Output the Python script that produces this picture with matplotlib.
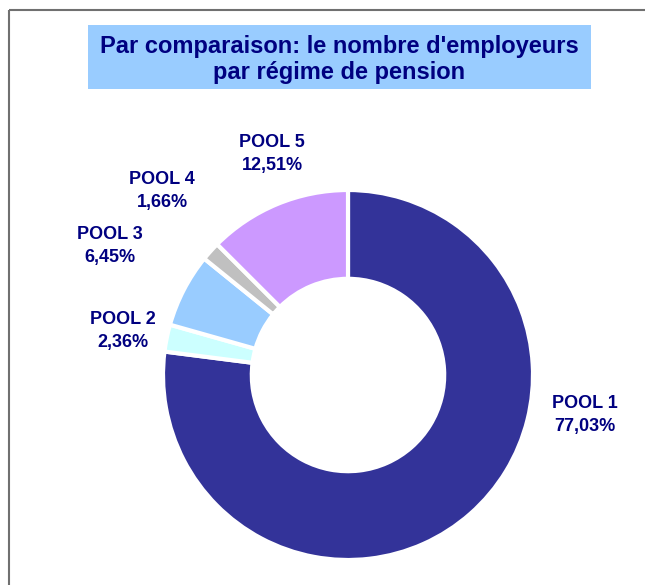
import matplotlib.pyplot as plt
from matplotlib.patches import Rectangle

# data
pools = ['POOL 1', 'POOL 2', 'POOL 3', 'POOL 4', 'POOL 5']
shares = [77.03, 2.36, 6.45, 1.66, 12.51]
colors = ['#333399', '#CCFFFF', '#99CCFF', '#C0C0C0', '#CC99FF']

navy = '#000080'
fig = plt.figure(figsize=(6.45, 5.85), dpi=100)
ax = fig.add_axes([0, 0, 1, 1])
ax.set_xlim(0, 645)
ax.set_ylim(585, 0)
ax.axis('off')

# outer chart frame (clipped on right/bottom like the screenshot)
ax.add_patch(Rectangle((9, 10), 700, 700, fill=False, ec='#707070', lw=1.5))

# title box
ax.add_patch(Rectangle((88, 25), 503, 64, fc='#99CCFF', ec='none'))
ax.text(339, 46, "Par comparaison: le nombre d'employeurs", ha='center', va='center',
        fontsize=17, fontweight='bold', color=navy, family='Liberation Sans')
ax.text(339, 72, "par régime de pension", ha='center', va='center',
        fontsize=17, fontweight='bold', color=navy, family='Liberation Sans')

# donut in a separate axes so the pie keeps its own geometry
pax = fig.add_axes([(348 - 185) / 645, (585 - 375 - 185) / 585, 370 / 645, 370 / 585])
pax.pie(shares, colors=colors, startangle=90, counterclock=False, radius=1,
        wedgeprops=dict(width=0.48, edgecolor='white', linewidth=3))
pax.set_xlim(-1, 1)
pax.set_ylim(-1, 1)
pax.set_aspect('equal')
pax.axis('off')

# labels
label_pos = [(585, 415), (123, 331), (110, 246), (162, 191), (272, 154)]
for name, val, (x, y) in zip(pools, shares, label_pos):
    txt = f"{name}\n{val:.2f}%".replace('.', ',')
    ax.text(x, y, txt, ha='center', va='center', fontsize=13, fontweight='bold',
            color=navy, family='Liberation Sans', linespacing=1.4)

fig.savefig('out.png', dpi=100)
